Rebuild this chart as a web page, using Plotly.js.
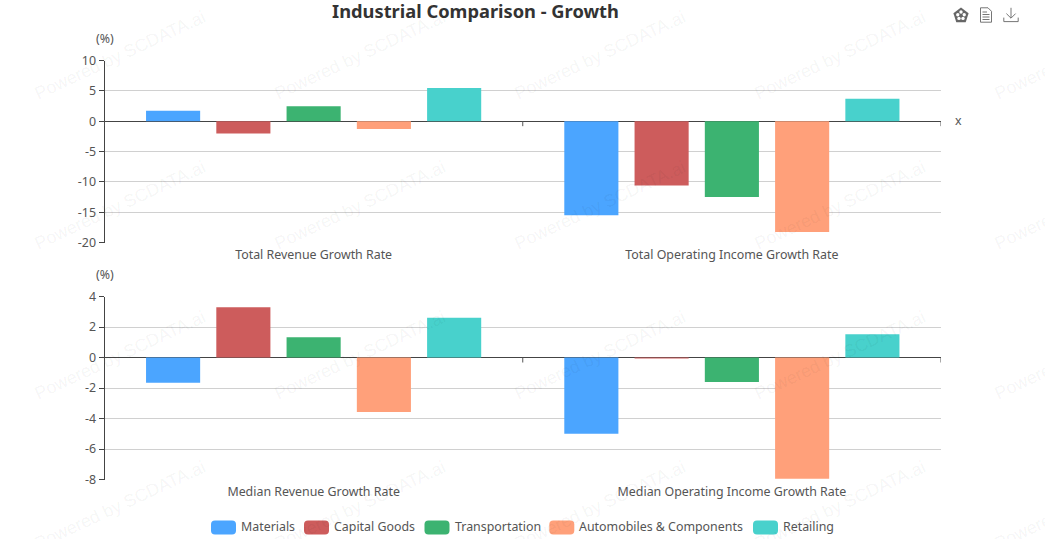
<!DOCTYPE html>
<html>
<head>
<meta charset="utf-8">
<script src="https://cdn.plot.ly/plotly-3.0.1.min.js"></script>
<style>html,body{margin:0;padding:0;background:#fff}#chart{width:1045px;height:539px}</style>
</head>
<body>
<div id="chart"></div>
<script>
var topCategories = ["Total Revenue Growth Rate", "Total Operating Income Growth Rate"];
var bottomCategories = ["Median Revenue Growth Rate", "Median Operating Income Growth Rate"];
var seriesNames = ["Materials", "Capital Goods", "Transportation", "Automobiles & Components", "Retailing"];
var seriesColors = ["#4ba5ff", "#cd5c5c", "#3cb371", "#ffa07a", "#48d1cc"];
// values in the order: total revenue, total operating income, median revenue, median operating income
var materials = [1.7, -15.5, -1.65, -5.0];
var capitalGoods = [-2.05, -10.6, 3.3, -0.03];
var transportation = [2.45, -12.5, 1.33, -1.6];
var automobiles = [-1.28, -18.25, -3.57, -7.95];
var retailing = [5.45, 3.7, 2.6, 1.52];
var allSeries = [materials, capitalGoods, transportation, automobiles, retailing];
var topTicks = [-20, -15, -10, -5, 0, 5, 10];
var bottomTicks = [-8, -6, -4, -2, 0, 2, 4];
var watermarkText = "Powered by SCDATA.ai";

var W = 1045, H = 539;
function px(x){ return x / W; }
function py(y){ return 1 - y / H; }
var FONT = '"Noto Sans", "Open Sans", sans-serif';
var TEXT = '#555';
var LABEL_SIZE = 12.4;

var traces = [];
allSeries.forEach(function(v, i){
  traces.push({type:'bar', name:seriesNames[i], x:topCategories, y:v.slice(0,2), xaxis:'x', yaxis:'y',
    marker:{color:seriesColors[i]}, showlegend:false});
  traces.push({type:'bar', name:seriesNames[i], x:bottomCategories, y:v.slice(2,4), xaxis:'x2', yaxis:'y2',
    marker:{color:seriesColors[i]}, showlegend:false});
});

function xAxis(anchor, cats){
  return {domain:[px(104.5), px(941)], anchor:anchor, type:'category', categoryorder:'array', categoryarray:cats,
    range:[-0.5,1.5], showgrid:false, zeroline:false, showline:false, ticks:'outside', ticklen:0.3, tickcolor:'rgba(0,0,0,0)', automargin:false,
    tickfont:{family:FONT,size:LABEL_SIZE,color:TEXT}, fixedrange:true};
}
function yAxis(anchor, dom, range, ticks){
  return {domain:dom, anchor:anchor, range:range, tickmode:'array', tickvals:ticks, ticktext:ticks.map(String),
    showgrid:true, gridcolor:'#d0d0d0', gridwidth:1, zeroline:true, zerolinecolor:'#444', zerolinewidth:1,
    showline:true, linecolor:'#444', linewidth:1, ticks:'outside', ticklen:5, tickcolor:'#444', automargin:false,
    tickfont:{family:FONT,size:LABEL_SIZE,color:TEXT}, fixedrange:true};
}

var shapes = [], annotations = [], images = [];

// category-boundary ticks on the zero axis
[['x','y'],['x2','y2']].forEach(function(r){
  [-0.5,0.5,1.5].forEach(function(b){
    shapes.push({type:'line', xref:r[0], yref:r[1], ysizemode:'pixel', yanchor:0, x0:b, x1:b, y0:0, y1:-5,
      line:{color:'#555',width:1}, layer:'above'});
  });
});

// legend keys and labels
var keyLeft = [211, 304, 424.5, 549.3, 753];
function roundedKey(x, y0, y1, w, r){
  var a = px(x), b = px(x+w), t = py(y0), u = py(y1), rx = r/W, ry = r/H;
  return 'M'+(a+rx)+','+t+' L'+(b-rx)+','+t+' Q'+b+','+t+' '+b+','+(t-ry)+' L'+b+','+(u+ry)+' Q'+b+','+u+' '+(b-rx)+','+u+
    ' L'+(a+rx)+','+u+' Q'+a+','+u+' '+a+','+(u+ry)+' L'+a+','+(t-ry)+' Q'+a+','+t+' '+(a+rx)+','+t+' Z';
}
seriesNames.forEach(function(n,i){
  shapes.push({type:'path', xref:'paper', yref:'paper', path:roundedKey(keyLeft[i],520.5,534.5,25,4),
    fillcolor:seriesColors[i], line:{width:0}, layer:'above'});
  annotations.push({xref:'paper', yref:'paper', x:px(keyLeft[i]+30), y:py(526.5), xanchor:'left', yanchor:'middle',
    text:n, showarrow:false, font:{family:FONT,size:LABEL_SIZE,color:TEXT}, borderpad:0, xshift:-1});
});

// axis unit labels
[[38,'(%)'],[274,'(%)']].forEach(function(a){
  annotations.push({xref:'paper', yref:'paper', x:px(104.5), y:py(a[0]), xanchor:'center', yanchor:'middle',
    text:a[1], showarrow:false, font:{family:FONT,size:LABEL_SIZE,color:TEXT}});
});
annotations.push({xref:'paper', yref:'paper', x:px(958.5), y:py(120), xanchor:'center', yanchor:'middle',
  text:'x', showarrow:false, font:{family:FONT,size:LABEL_SIZE,color:TEXT}});

// repeated watermark
[120,360,600,840,1080].forEach(function(cx){
  [55,205,355,505].forEach(function(cy){
    annotations.push({xref:'paper', yref:'paper', x:px(cx), y:py(cy), xanchor:'center', yanchor:'middle',
      text:watermarkText, showarrow:false, textangle:-25,
      font:{family:'"Liberation Sans", Arial, sans-serif',size:17.7,color:'rgba(0,0,0,0.055)'}});
  });
});

// toolbox icons
function svgUri(inner){
  return 'data:image/svg+xml;charset=utf-8,' + encodeURIComponent(
    '<svg xmlns="http://www.w3.org/2000/svg" width="64" height="64" viewBox="0 0 16 16">'+inner+'</svg>');
}
var iconPentagon = svgUri('<path d="M8 .6 15.6 6.2 12.7 15.2H3.3L.4 6.2Z" fill="#666"/>'+
  '<circle cx="8" cy="5" r="1.7" fill="#fff"/><circle cx="4.8" cy="7.8" r="1.7" fill="#fff"/><circle cx="11.2" cy="7.8" r="1.7" fill="#fff"/>'+
  '<circle cx="6" cy="11.4" r="1.7" fill="#fff"/><circle cx="10" cy="11.4" r="1.7" fill="#fff"/><circle cx="8" cy="8.4" r="1.5" fill="#666"/>');
var iconDoc = svgUri('<path d="M2.5 .8H10L13.5 4.3V15.2H2.5Z" fill="none" stroke="#666" stroke-width=".9"/>'+
  '<path d="M4.5 5H9M4.5 7.5H11.5M4.5 10H11.5M4.5 12.5H11.5" fill="none" stroke="#666" stroke-width=".9"/>');
var iconDown = svgUri('<path d="M8 .8V11M3.4 6.6 8 11.2 12.6 6.6M.8 10.6V14.6H15.2V10.6" fill="none" stroke="#666" stroke-width=".9"/>');
[[iconPentagon,961],[iconDoc,986],[iconDown,1011]].forEach(function(it){
  images.push({source:it[0], xref:'paper', yref:'paper', x:px(it[1]-8), y:py(7), sizex:16/W, sizey:16/H,
    xanchor:'left', yanchor:'top', sizing:'contain', layer:'above'});
});

var layout = {
  width:W, height:H, autosize:false, margin:{l:0,r:0,t:0,b:0,pad:0},
  paper_bgcolor:'#fff', plot_bgcolor:'rgba(0,0,0,0)', showlegend:false,
  title:{text:'Industrial Comparison - Growth', xref:'paper', yref:'paper', x:px(475.5), y:py(12), xanchor:'center', yanchor:'middle',
    font:{family:FONT,size:18.3,color:'#333',weight:700}},
  barmode:'group', bargap:0.16, bargroupgap:0.23,
  xaxis:xAxis('y', topCategories),
  xaxis2:xAxis('y2', bottomCategories),
  yaxis:yAxis('x', [py(242.5), py(60.5)], [-20,10], topTicks),
  yaxis2:yAxis('x2', [py(479.5), py(296.5)], [-8,4], bottomTicks),
  shapes:shapes, annotations:annotations, images:images
};
Plotly.newPlot('chart', traces, layout, {displayModeBar:false, responsive:false});
</script>
</body>
</html>
